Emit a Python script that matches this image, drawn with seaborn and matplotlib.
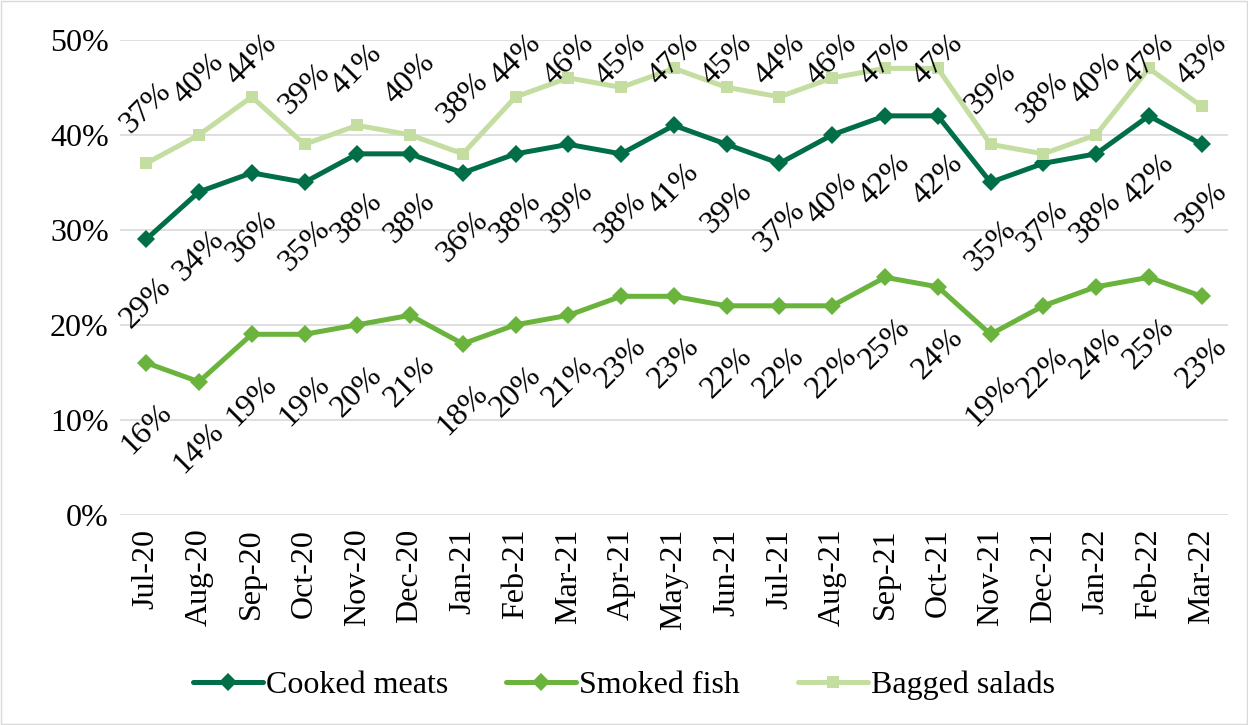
import numpy as np
import pandas as pd
import matplotlib
matplotlib.use("Agg")
import matplotlib.pyplot as plt
import seaborn as sns

# data
months = ["Jul-20", "Aug-20", "Sep-20", "Oct-20", "Nov-20", "Dec-20", "Jan-21",
          "Feb-21", "Mar-21", "Apr-21", "May-21", "Jun-21", "Jul-21", "Aug-21",
          "Sep-21", "Oct-21", "Nov-21", "Dec-21", "Jan-22", "Feb-22", "Mar-22"]
cooked_meats = [29, 34, 36, 35, 38, 38, 36, 38, 39, 38, 41, 39, 37, 40, 42, 42, 35, 37, 38, 42, 39]
smoked_fish = [16, 14, 19, 19, 20, 21, 18, 20, 21, 23, 23, 22, 22, 22, 25, 24, 19, 22, 24, 25, 23]
bagged_salads = [37, 40, 44, 39, 41, 40, 38, 44, 46, 45, 47, 45, 44, 46, 47, 47, 39, 38, 40, 47, 43]

series = {"Cooked meats": cooked_meats, "Smoked fish": smoked_fish, "Bagged salads": bagged_salads}
colors = {"Cooked meats": "#006E46", "Smoked fish": "#6AB43E", "Bagged salads": "#C4DDA0"}
markers = {"Cooked meats": "D", "Smoked fish": "D", "Bagged salads": "s"}
msizes = {"Cooked meats": 9, "Smoked fish": 9, "Bagged salads": 8.5}
label_offset = {"Cooked meats": -46, "Smoked fish": -48, "Bagged salads": 40}

rows = []
for name, vals in series.items():
    for i, v in enumerate(vals):
        rows.append({"pos": i, "month": months[i], "series": name, "value": v})
df = pd.DataFrame(rows)

sns.set_theme(style="white")
plt.rcParams["font.family"] = ["Liberation Serif", "DejaVu Serif"]
plt.rcParams["text.color"] = "black"
plt.rcParams["xtick.color"] = "black"
plt.rcParams["ytick.color"] = "black"

FS = 23

fig = plt.figure(figsize=(12.48, 7.25), dpi=100)
ax = fig.add_axes([0.096, 0.290, 0.888, 0.655])

sns.lineplot(data=df, x="pos", y="value", hue="series", style="series",
             palette=colors, markers=markers, dashes=False, linewidth=3.6,
             markersize=9, markeredgewidth=0, ax=ax, legend=False)

ax.set_xlim(-0.5, len(months) - 0.5)
ax.set_ylim(0, 50)

# labels above the top series get pushed down to stay inside the plot area
pt_per_unit = ax.get_position().height * fig.get_figheight() * 72 / 50
top_limit = 47.9
for name, vals in series.items():
    for i, v in enumerate(vals):
        off = label_offset[name]
        if off > 0:
            off = min(off, (top_limit - v) * pt_per_unit)
        ax.annotate(f"{v}%", (i, v), xytext=(0, off),
                    textcoords="offset points", ha="center", va="center",
                    rotation=45, fontsize=FS, color="black")

ax.set_yticks(range(0, 51, 10))
ax.set_yticklabels([f"{t}%" for t in range(0, 51, 10)], fontsize=FS)
ax.set_xticks(range(len(months)))
ax.set_xticklabels(months, rotation=90, fontsize=FS)
ax.tick_params(axis="y", length=0, pad=8)
ax.tick_params(axis="x", length=0, pad=10)
ax.set_xlabel("")
ax.set_ylabel("")
ax.yaxis.grid(True, color="#D9D9D9", linewidth=1.2)
ax.set_axisbelow(True)
for s in ax.spines.values():
    s.set_visible(False)

handles = [plt.Line2D([], [], color=colors[n], marker=markers[n], linewidth=3.6,
                      markersize=msizes[n], markeredgewidth=0) for n in series]
fig.legend(handles, list(series), loc="center", bbox_to_anchor=(0.5, 0.055),
           ncol=3, frameon=False, fontsize=FS, handlelength=2.2,
           handletextpad=0.1, columnspacing=1.8)

fig.patches.append(plt.Rectangle((0.001, 0.001), 0.998, 0.998, transform=fig.transFigure,
                                 fill=False, edgecolor="#D9D9D9", linewidth=1))

fig.savefig("out.png", dpi=100)
